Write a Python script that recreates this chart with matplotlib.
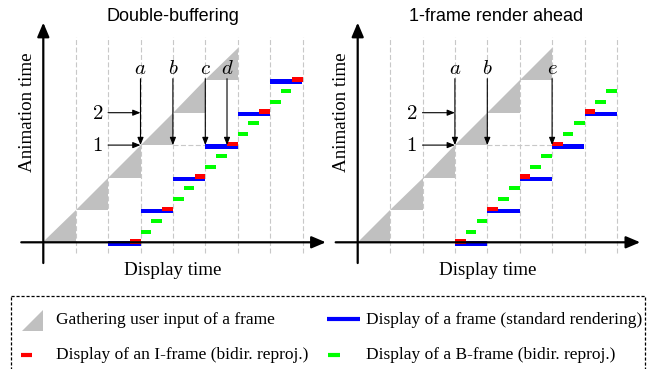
import matplotlib
matplotlib.use("Agg")
import matplotlib.pyplot as plt
from matplotlib.patches import Polygon, Rectangle

plt.rcParams['mathtext.fontset'] = 'cm'

# ---------------- data ----------------
grid_x = [1, 2, 3, 4, 5, 6, 7, 8]
gather_start = [0, 1, 2, 3, 4, 5]          # input-gathering triangles per frame

# Double-buffering
db_display_x = [2, 3, 4, 5, 6, 7]
db_display_y = [0, 1, 2, 3, 4, 5]
db_iframe_x = [2.67, 3.67, 4.67, 5.67, 6.67, 7.67]
db_iframe_y = [0, 1, 2, 3, 4, 5]
db_bframe_x = [3.0, 3.33, 4.0, 4.33, 5.0, 5.33, 6.0, 6.33, 7.0, 7.33]
db_bframe_y = [0.33, 0.67, 1.33, 1.67, 2.33, 2.67, 3.33, 3.67, 4.33, 4.67]
db_markers = ['a', 'b', 'c', 'd']
db_marker_x = [3, 4, 5, 5.67]
db_wait = [4, 5]

# 1-frame render ahead
ra_display_x = [3, 4, 5, 6, 7]
ra_display_y = [0, 1, 2, 3, 4]
ra_iframe_x = [3, 4, 5, 6, 7]
ra_iframe_y = [0, 1, 2, 3, 4]
ra_bframe_x = [3.33, 3.67, 4.33, 4.67, 5.33, 5.67, 6.33, 6.67, 7.33, 7.67]
ra_bframe_y = [0.33, 0.67, 1.33, 1.67, 2.33, 2.67, 3.33, 3.67, 4.33, 4.67]
ra_markers = ['a', 'b', 'e']
ra_marker_x = [3, 4, 6]
ra_wait = [4, 6]

frame_labels = ['1', '2']
frame_label_y = [3, 4]
marker_top = 5.05

display_len = 1.0
reproj_len = 0.33

BLUE = '#0000ff'
RED = '#ff0000'
GREEN = '#00ff00'
GRAY = '#c0c0c0'

W, H = 651, 369
fig = plt.figure(figsize=(W / 100, H / 100), dpi=100)

U = 32.4  # pixels per data unit


def make_ax(ox, oy):
    x0, x1, y0, y1 = -1.35, 8.95, -1.1, 7.45
    left = ox + x0 * U
    bottom = (H - oy) + y0 * U
    ax = fig.add_axes([left / W, bottom / H, (x1 - x0) * U / W, (y1 - y0) * U / H])
    ax.set_xlim(x0, x1)
    ax.set_ylim(y0, y1)
    ax.axis('off')
    ax.patch.set_alpha(0)
    return ax


def draw_panel(ax, title, title_x, disp_x, disp_y, if_x, if_y, bf_x, bf_y,
               markers, marker_x, wait):
    # dashed grid
    for gx in grid_x:
        ax.plot([gx, gx], [-0.33, 6.35], color='#c8c8c8', lw=0.8,
                dashes=(4.5, 2.2), zorder=1)
    # gathering triangles
    for s in gather_start:
        ax.add_patch(Polygon([(s, s), (s + 1, s), (s + 1, s + 1)],
                             closed=True, facecolor=GRAY, edgecolor='none', zorder=2))
    # waiting dashed line
    ax.plot(wait, [3, 3], color='#c8c8c8', lw=0.8, dashes=(4.5, 2.2), zorder=1)
    # axes arrows
    ap = dict(arrowstyle='-|>,head_length=0.85,head_width=0.36', mutation_scale=10,
              lw=1.6, color='black', shrinkA=0, shrinkB=0)
    ax.annotate('', xy=(8.72, 0), xytext=(-0.68, 0), arrowprops=ap, zorder=6)
    ax.annotate('', xy=(0, 6.78), xytext=(0, -0.64), arrowprops=ap, zorder=6)
    # display bars
    ax.barh([y - 0.04 for y in disp_y], [display_len] * len(disp_x), left=disp_x,
            height=0.13, color=BLUE, align='center', zorder=4, linewidth=0)
    ax.barh([y + 0.03 for y in if_y], [reproj_len] * len(if_x), left=if_x,
            height=0.14, color=RED, align='center', zorder=5, linewidth=0)
    ax.barh(bf_y, [reproj_len] * len(bf_x), left=bf_x,
            height=0.12, color=GREEN, align='center', zorder=4, linewidth=0)
    # frame arrows
    sap = dict(arrowstyle='-|>,head_length=0.5,head_width=0.2', mutation_scale=9,
               lw=0.8, color='black', shrinkA=0, shrinkB=0)
    for lab, ly in zip(frame_labels, frame_label_y):
        ax.annotate('', xy=(3, ly), xytext=(2, ly), arrowprops=sap, zorder=7)
        ax.text(1.67, ly, '$%s$' % lab, fontsize=15, ha='center', va='center')
    for lab, mx in zip(markers, marker_x):
        ax.annotate('', xy=(mx, 3), xytext=(mx, marker_top), arrowprops=sap, zorder=7)
        ax.text(mx, 5.37, '$%s$' % lab, fontsize=15, ha='center', va='center')
    # labels
    ax.text(title_x, 6.98, title, family='Liberation Sans', fontsize=13,
            ha='center', va='center')
    ax.text(-0.5, 4.03, 'Animation time', family='Liberation Serif', fontsize=13.7,
            rotation=90, ha='center', va='center')
    ax.text(4.0, -0.88, 'Display time', family='Liberation Serif', fontsize=13.7,
            ha='center', va='center')


axL = make_ax(43.3, 242.3)
draw_panel(axL, 'Double-buffering', 4.0, db_display_x, db_display_y,
           db_iframe_x, db_iframe_y, db_bframe_x, db_bframe_y,
           db_markers, db_marker_x, db_wait)
axR = make_ax(357.7, 242.3)
draw_panel(axR, '1-frame render ahead', 4.27, ra_display_x, ra_display_y,
           ra_iframe_x, ra_iframe_y, ra_bframe_x, ra_bframe_y,
           ra_markers, ra_marker_x, ra_wait)

# ---------------- legend ----------------
lg = fig.add_axes([0, 0, 1, 1])
lg.set_xlim(0, W)
lg.set_ylim(H, 0)
lg.axis('off')
lg.patch.set_alpha(0)
lg.add_patch(Rectangle((11, 296), 634, 80, fill=False, edgecolor='black',
                       lw=0.9, linestyle=(0, (2.5, 1.5)), clip_on=False))
lg.add_patch(Polygon([(21.7, 330.7), (43.3, 330.7), (43.3, 310)], closed=True,
                     facecolor=GRAY, edgecolor='none'))
lg.plot([327, 360], [319, 319], color=BLUE, lw=3, solid_capstyle='butt')
lg.plot([21, 32], [355, 355], color=RED, lw=3, solid_capstyle='butt')
lg.plot([328, 340], [355, 355], color=GREEN, lw=3, solid_capstyle='butt')
lfont = dict(family='Liberation Serif', fontsize=12.5, va='center', ha='left')
lg.text(56, 320, 'Gathering user input of a frame', **lfont)
lg.text(366, 320, 'Display of a frame (standard rendering)', **lfont)
lg.text(56, 355, 'Display of an I-frame (bidir. reproj.)', **lfont)
lg.text(366, 355, 'Display of a B-frame (bidir. reproj.)', **lfont)

fig.savefig('out.png', dpi=100)
